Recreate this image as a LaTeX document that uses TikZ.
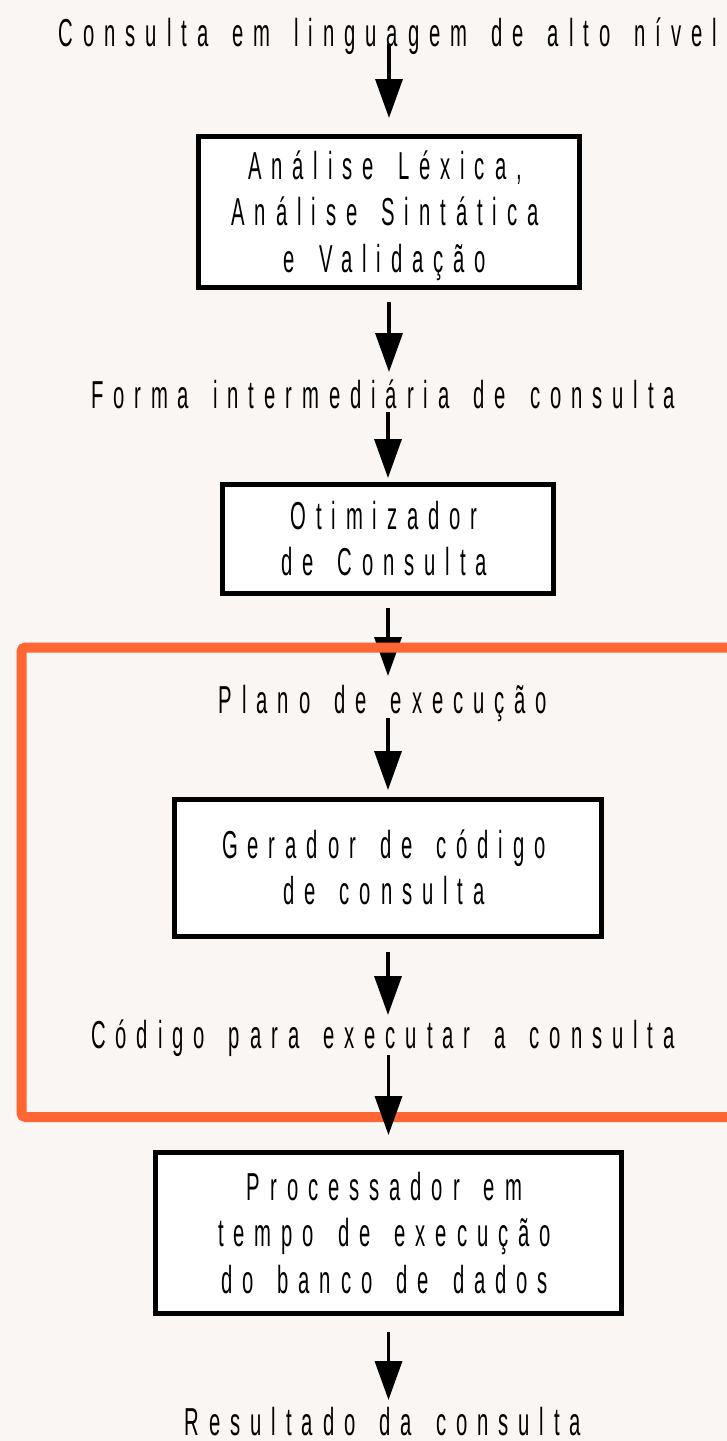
\documentclass[tikz,border=0pt]{standalone}
\usepackage{fontspec}
\setmainfont{Liberation Sans}[FakeStretch=0.52,LetterSpace=25.4,WordSpace=1.55]
\usetikzlibrary{arrows.meta}
\definecolor{bg}{RGB}{250,246,243}
\definecolor{frameorange}{RGB}{255,102,51}
\newcommand\trail{\kern8pt}
\tikzset{
  txt/.style={font=\fontsize{39}{46.5}\selectfont},
  lbl/.style={txt, inner sep=0pt, outer sep=0pt, text height=27pt, text depth=0pt, anchor=base},
  stepbox/.style={txt, draw=black, line width=5pt, fill=white, inner sep=0pt, outer sep=0pt, align=center, text depth=0pt},
  arr/.style={line width=3.5pt, -{Triangle[width=27pt,length=39pt]}},
}
\begin{document}
\begin{tikzpicture}[x=1pt,y=-1pt]
\useasboundingbox (0,0) rectangle (727,1441);
\fill[bg] (0,0) rectangle (727,1441);

\node[lbl] (title) at (388,46) {Consulta em linguagem de alto nível};
\node[stepbox, minimum width=381pt, minimum height=151pt, text height=120pt] (b1) at (389,212)
  {Análise Léxica,\trail\\Análise Sintática\trail\\e Validação\trail};
\node[lbl] (forma) at (383,408) {Forma intermediária de consulta};
\node[stepbox, minimum width=331pt, minimum height=109pt, text height=73.5pt] (b2) at (388,539)
  {Otimizador\trail\\de Consulta\trail};
\node[lbl] (plano) at (383,713) {Plano de execução};
\node[stepbox, minimum width=427pt, minimum height=137pt, text height=73.5pt] (b3) at (388,868)
  {Gerador de código\trail\\de consulta\trail};
\node[lbl] (codigo) at (383,1048) {Código para executar a consulta};
\node[stepbox, minimum width=466pt, minimum height=161pt, text height=120pt] (b4) at (388.5,1233)
  {Processador em\trail\\tempo de execução\trail\\do banco de dados\trail};
\node[lbl] (result) at (383,1435) {Resultado da consulta};

\draw[arr, shorten <=-2pt, shorten >=18.5pt] (title.south -| b1) -- (b1);
\draw[arr, shorten <=14.5pt, shorten >=9pt] (b1) -- (forma.north -| b1);
\draw[arr, shorten <=4pt, shorten >=6.5pt] (forma.south -| b2) -- (b2);
\draw[arr, shorten <=14.5pt, shorten >=10pt] (b2) -- (plano.north -| b2);

\draw[frameorange, line width=10pt, rounded corners=4pt] (21.5,647.5) rectangle (745,1117);

\draw[arr, shorten <=5pt, shorten >=9.5pt] (plano.south -| b3) -- (b3);
\draw[arr, shorten <=15.5pt, shorten >=6pt] (b3) -- (codigo.north -| b3);
\draw[arr, shorten <=7pt, shorten >=17.5pt] (codigo.south -| b4) -- (b4);
\draw[arr, shorten <=18.5pt, shorten >=8pt] (b4) -- (result.north -| b4);
\end{tikzpicture}
\end{document}
